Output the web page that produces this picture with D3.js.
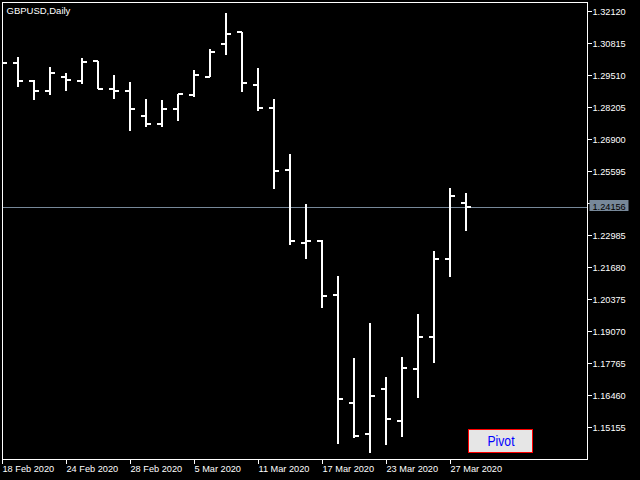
<!DOCTYPE html>
<html>
<head>
<meta charset="utf-8">
<script src="https://cdn.jsdelivr.net/npm/d3@7"></script>
<style>
  html, body { margin: 0; padding: 0; background: #000; }
  svg { display: block; }
  text { font-family: "Liberation Sans", Arial, sans-serif; }
</style>
</head>
<body>
<svg id="chart" width="640" height="480"></svg>
<script>
// ---- data ----
const symbolTitle = "GBPUSD,Daily";
const dates = ["18 Feb 2020","19 Feb 2020","20 Feb 2020","21 Feb 2020","24 Feb 2020","25 Feb 2020","26 Feb 2020","27 Feb 2020","28 Feb 2020",
  "2 Mar 2020","3 Mar 2020","4 Mar 2020","5 Mar 2020","6 Mar 2020","9 Mar 2020","10 Mar 2020","11 Mar 2020","12 Mar 2020","13 Mar 2020",
  "16 Mar 2020","17 Mar 2020","18 Mar 2020","19 Mar 2020","20 Mar 2020","23 Mar 2020","24 Mar 2020","25 Mar 2020","26 Mar 2020","27 Mar 2020","30 Mar 2020"];
const openPrices  = [1.30052,1.29999,1.29265,1.28857,1.29453,1.29265,1.30081,1.28963,1.28857,1.27850,1.27524,1.28148,1.28694,1.29453,1.30774,1.31288,1.29127,1.28176,1.25648,1.22683,1.22764,1.20562,1.16145,1.14893,1.16728,1.15423,1.17544,1.18849,1.22030,1.24290];
const highPrices  = [1.30256,1.30244,1.29318,1.29836,1.29616,1.30203,1.30093,1.29510,1.29224,1.28531,1.28503,1.28759,1.29714,1.30570,1.32038,1.31288,1.29795,1.28531,1.26300,1.24261,1.22793,1.21325,1.17968,1.19396,1.17193,1.18009,1.19763,1.22332,1.24901,1.24697];
const lowPrices   = [1.29808,1.29045,1.28503,1.28719,1.28857,1.29155,1.28939,1.28556,1.27250,1.27389,1.27389,1.27658,1.28613,1.29428,1.30326,1.28829,1.28042,1.24885,1.22601,1.22006,1.20007,1.14473,1.14706,1.14094,1.14445,1.14771,1.16361,1.17764,1.21296,1.23172];
const closePrices = [1.29999,1.29265,1.28857,1.29591,1.29318,1.30040,1.28963,1.28882,1.28148,1.27524,1.28148,1.28747,1.29510,1.30472,1.31182,1.29184,1.28176,1.25607,1.22764,1.22764,1.20521,1.16321,1.14812,1.16443,1.15481,1.17573,1.18849,1.22030,1.24600,1.24156];
const yTickLabels = ["1.32120","1.30815","1.29510","1.28205","1.26900","1.25595","1.24290","1.22985","1.21680","1.20375","1.19070","1.17765","1.16460","1.15155"];
const xTickLabels = ["18 Feb 2020","24 Feb 2020","28 Feb 2020","5 Mar 2020","11 Mar 2020","17 Mar 2020","23 Mar 2020","27 Mar 2020"];
const bidPrice = 1.24156;
const buttonLabel = "Pivot";

// ---- layout ----
const svg = d3.select("#chart");
const plot = { left: 2, top: 2, right: 587, bottom: 459 };
const barStep = 16;

const x = d3.scaleLinear()
  .domain([0, (plot.right - plot.left) / barStep])
  .range([plot.left, plot.right]);
const y = d3.scaleLinear()
  .domain([1.13861, 1.32499])
  .range([plot.bottom, plot.top]);

svg.append("rect").attr("width", 640).attr("height", 480).attr("fill", "#000");

const clip = svg.append("defs").append("clipPath").attr("id", "plotclip")
  .append("rect").attr("x", plot.left + 1).attr("y", plot.top + 1)
  .attr("width", plot.right - plot.left - 1).attr("height", plot.bottom - plot.top - 1);

// bid line
svg.append("line")
  .attr("x1", plot.left).attr("x2", plot.right)
  .attr("y1", Math.round(y(bidPrice)) + 0.5).attr("y2", Math.round(y(bidPrice)) + 0.5)
  .attr("stroke", "#778899").attr("stroke-width", 1);

// bars
const bars = dates.map((d, i) => ({ d, i, o: openPrices[i], h: highPrices[i], l: lowPrices[i], c: closePrices[i] }));
const g = svg.append("g").attr("clip-path", "url(#plotclip)");
const barG = g.selectAll("g.bar").data(bars).join("g").attr("class", "bar");
barG.append("line")
  .attr("x1", d => x(d.i)).attr("x2", d => x(d.i))
  .attr("y1", d => Math.round(y(d.h))).attr("y2", d => Math.round(y(d.l)))
  .attr("stroke", "#fff").attr("stroke-width", 2);
barG.append("line")
  .attr("x1", d => x(d.i) - 5).attr("x2", d => x(d.i))
  .attr("y1", d => Math.round(y(d.o))).attr("y2", d => Math.round(y(d.o)))
  .attr("stroke", "#fff").attr("stroke-width", 2);
barG.append("line")
  .attr("x1", d => x(d.i)).attr("x2", d => x(d.i) + 5)
  .attr("y1", d => Math.round(y(d.c))).attr("y2", d => Math.round(y(d.c)))
  .attr("stroke", "#fff").attr("stroke-width", 2);

// frame
svg.append("rect")
  .attr("x", plot.left + 0.5).attr("y", plot.top + 0.5)
  .attr("width", plot.right - plot.left).attr("height", plot.bottom - plot.top)
  .attr("fill", "none").attr("stroke", "#fff").attr("stroke-width", 1);

// y axis
const yAxis = svg.append("g");
yTickLabels.forEach(t => {
  const yy = Math.round(y(+t)) + 0.5;
  yAxis.append("line").attr("x1", plot.right).attr("x2", plot.right + 5)
    .attr("y1", yy).attr("y2", yy).attr("stroke", "#fff");
  yAxis.append("text").attr("x", plot.right + 5.5).attr("y", yy + 3.5)
    .attr("fill", "#fff").attr("font-size", "9.2px").text(t);
});

// x axis
const xAxis = svg.append("g");
xTickLabels.forEach(t => {
  const i = dates.indexOf(t);
  const xx = Math.round(x(i)) + 0.5;
  xAxis.append("line").attr("x1", xx).attr("x2", xx)
    .attr("y1", plot.bottom).attr("y2", plot.bottom + 5).attr("stroke", "#fff");
  xAxis.append("text").attr("x", xx).attr("y", 472)
    .attr("fill", "#fff").attr("font-size", "9.2px").text(t);
});

// bid label
const by = y(bidPrice);
svg.append("rect").attr("x", 589.5).attr("y", Math.round(by) - 7)
  .attr("width", 39).attr("height", 11).attr("fill", "#778899");
svg.append("text").attr("x", 592.5).attr("y", Math.round(by) + 2.5)
  .attr("fill", "#000").attr("font-size", "9.2px").text(bidPrice.toFixed(5));

// title
svg.append("text").attr("x", 6.5).attr("y", 13.5)
  .attr("fill", "#fff").attr("font-size", "9.5px").text(symbolTitle);

// Pivot button
svg.append("rect").attr("x", 468.5).attr("y", 429.5).attr("width", 64).attr("height", 23)
  .attr("fill", "#e6e6e6").attr("stroke", "#ff0000").attr("stroke-width", 1);
svg.append("text").attr("x", 501).attr("y", 446).attr("text-anchor", "middle")
  .attr("fill", "#0000ff").attr("font-size", "14px")
  .attr("textLength", 27).attr("lengthAdjust", "spacingAndGlyphs").text(buttonLabel);
</script>
</body>
</html>
